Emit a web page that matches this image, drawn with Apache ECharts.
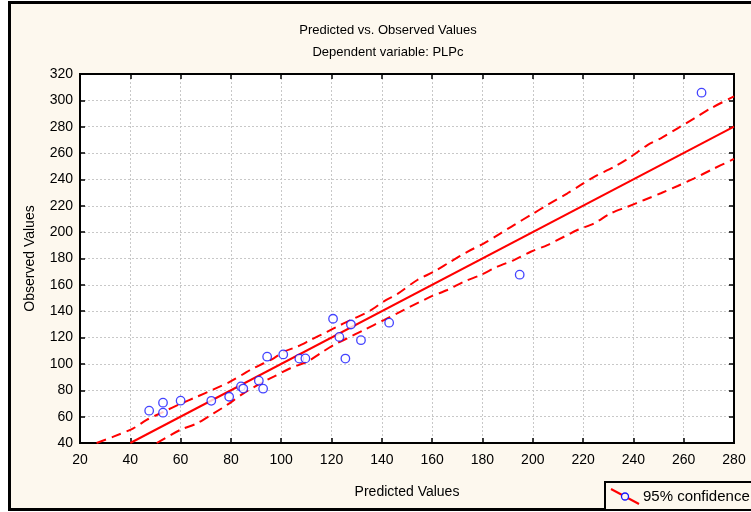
<!DOCTYPE html>
<html>
<head>
<meta charset="utf-8">
<script src="https://cdn.jsdelivr.net/npm/echarts@6/dist/echarts.min.js"></script>
<style>
  html, body { margin: 0; padding: 0; background: #fff; }
  #chart { width: 751px; height: 512px; }
</style>
</head>
<body>
<div id="chart"></div>
<script>
// predicted vs observed points
const predicted = [47.5, 53, 53, 60, 72.2, 79.3, 84, 84.9, 91.1, 92.8, 94.4, 100.8, 107.2, 109.6, 120.6, 123.1, 125.5, 127.7, 131.7, 142.9, 194.8, 267.1]
const observed = [64.5, 70.6, 63, 72.1, 72, 75.1, 82.9, 81.3, 87.3, 81.2, 105.5, 107.2, 104, 104.2, 134.3, 120.5, 104.1, 129.9, 118, 131.3, 167.7, 305.8]

// fitted line
const fitX = [40, 280]
const fitY = [40, 280]

// 95% confidence band
const upperX = [26.6, 33.3, 41.2, 46.5, 53.2, 59.8, 66.5, 73.1, 79.7, 87.7, 93, 97, 101, 106.3, 111.6, 118.2, 123.5, 128.8, 135.5, 140.8, 146.1, 154.1, 160.7, 167.3, 174, 180.6, 187.2, 192.5, 199.2, 205.8, 213.8, 219.1, 224.4, 232.4, 239, 245.6, 250.9, 257.6, 264.2, 270.8, 280]
const upperY = [40, 44.8, 51.1, 57.5, 63.7, 69.6, 75.1, 80.7, 86.5, 95.4, 100.5, 104.3, 109.3, 113.1, 118.1, 124.4, 129.5, 134.3, 140.6, 147.5, 153, 163.7, 170, 177.6, 185.1, 191.5, 199.1, 205.4, 213, 220.6, 229.5, 235.8, 242, 249.6, 257.2, 266.1, 271.2, 278.8, 286.4, 294, 303]
const lowerX = [50.5, 59.8, 66.5, 73.1, 78.4, 85, 93, 97, 103.6, 110.3, 115.6, 120.9, 126.2, 132.8, 140.8, 146.1, 159.4, 166, 172.6, 179.3, 185.9, 192.5, 199.2, 205.8, 212.4, 217.7, 224.4, 231, 237.7, 244.3, 250.9, 257.6, 264.2, 270.8, 280]
const lowerY = [40, 49.9, 54.9, 62.5, 68.8, 77.7, 86.5, 90.3, 96.7, 101.7, 108.1, 114.4, 119.4, 125.7, 133.3, 138.4, 151, 156.1, 162.4, 167.5, 173.8, 178.8, 185.1, 190.2, 196.5, 201.6, 206.7, 214.3, 219.3, 224.4, 229.5, 235, 240.8, 247.1, 255.6]

const xTicks = { min: 20, max: 280, interval: 20 }
const yTicks = { min: 40, max: 320, interval: 20 }

function pairs(xs, ys) {
  return xs.map((x, i) => [x, ys[i]])
}

const font = 'Liberation Sans, Arial, sans-serif'
const cream = '#fdf8ee'
const red = '#ff0000'

const chart = echarts.init(document.getElementById('chart'), null, { renderer: 'canvas' })

const tickStyle = { show: true, inside: true, length: 5, lineStyle: { color: '#000', width: 1.5 } }
const gridLine = { show: true, lineStyle: { color: '#c8c8c8', width: 1, type: [2, 2] } }

chart.setOption({
  animation: false,
  backgroundColor: '#fff',
  textStyle: { fontFamily: font },
  title: {
    text: 'Predicted vs. Observed Values',
    subtext: 'Dependent variable: PLPc',
    left: 383,
    textAlign: 'center',
    top: 19,
    itemGap: 9,
    textStyle: { fontSize: 13, fontWeight: 'normal', color: '#000', fontFamily: font },
    subtextStyle: { fontSize: 13, color: '#000', fontFamily: font }
  },
  grid: {
    left: 80, right: 17, top: 74, bottom: 69,
    show: true, backgroundColor: '#fff', borderColor: '#000', borderWidth: 2
  },
  xAxis: [
    {
      type: 'value', position: 'bottom', ...xTicks,
      name: 'Predicted Values', nameLocation: 'middle', nameGap: 42,
      nameTextStyle: { fontSize: 14, color: '#000' },
      axisLine: { show: true, onZero: false, lineStyle: { color: '#000', width: 2 } },
      axisTick: tickStyle,
      axisLabel: { fontSize: 14, color: '#000', margin: 10 },
      splitLine: gridLine
    },
    {
      type: 'value', position: 'top', ...xTicks,
      axisLine: { show: true, onZero: false, lineStyle: { color: '#000', width: 2 } },
      axisTick: tickStyle,
      axisLabel: { show: false },
      splitLine: { show: false }
    }
  ],
  yAxis: [
    {
      type: 'value', position: 'left', ...yTicks,
      name: 'Observed Values', nameLocation: 'middle', nameGap: 43,
      nameTextStyle: { fontSize: 14, color: '#000' },
      axisLine: { show: true, onZero: false, lineStyle: { color: '#000', width: 2 } },
      axisTick: tickStyle,
      axisLabel: { fontSize: 14, color: '#000', margin: 7 },
      splitLine: gridLine
    },
    {
      type: 'value', position: 'right', ...yTicks,
      axisLine: { show: true, onZero: false, lineStyle: { color: '#000', width: 2 } },
      axisTick: tickStyle,
      axisLabel: { show: false },
      splitLine: { show: false }
    }
  ],
  series: [
    {
      name: 'upper', type: 'line', data: pairs(upperX, upperY),
      showSymbol: false, smooth: 0.3, clip: true,
      lineStyle: { color: red, width: 2, type: [10, 6] }
    },
    {
      name: 'lower', type: 'line', data: pairs(lowerX, lowerY),
      showSymbol: false, smooth: 0.3, clip: true,
      lineStyle: { color: red, width: 2, type: [10, 6] }
    },
    {
      name: 'fit', type: 'line', data: pairs(fitX, fitY),
      showSymbol: false, clip: true,
      lineStyle: { color: red, width: 2 }
    },
    {
      name: '95% confidence', type: 'scatter', data: pairs(predicted, observed),
      symbol: 'circle', symbolSize: 8.5, z: 5,
      itemStyle: { color: '#fff', borderColor: '#1515ff', borderWidth: 1.3 }
    }
  ],
  graphic: [
    {
      type: 'rect', z: -100, silent: true,
      shape: { x: 9.5, y: 2.5, width: 800, height: 507 },
      style: { fill: cream, stroke: '#000', lineWidth: 3 }
    },
    {
      type: 'group', z: 100,
      children: [
        {
          type: 'rect',
          shape: { x: 605, y: 482, width: 160, height: 28 },
          style: { fill: cream, stroke: '#000', lineWidth: 2 }
        },
        {
          type: 'line',
          shape: { x1: 611, y1: 489, x2: 639, y2: 504 },
          style: { stroke: red, lineWidth: 2 }
        },
        {
          type: 'circle',
          shape: { cx: 625, cy: 496.5, r: 3.5 },
          style: { fill: cream, stroke: '#1515ff', lineWidth: 1.3 }
        },
        {
          type: 'text',
          x: 643, y: 497,
          style: { text: '95% confidence', fontSize: 15, fontFamily: font, fill: '#000', verticalAlign: 'middle' }
        }
      ]
    }
  ]
})
</script>
</body>
</html>
